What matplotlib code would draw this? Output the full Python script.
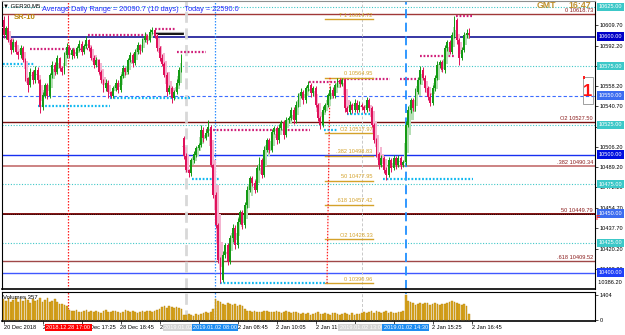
import matplotlib
matplotlib.use("Agg")
import matplotlib.pyplot as plt
import matplotlib.transforms as mtransforms
from matplotlib.patches import Rectangle

plt.rcParams['font.family'] = ['Liberation Sans', 'DejaVu Sans']

# ---------------- data ----------------
symbol = "GER30,M5"
first_open = 10614.0
gap_index = 74          # first bar of 2 Jan session
gap_open = 10514.0

closes = [
    10601, 10607, 10597, 10588.5, 10595, 10587, 10584, 10590, 10580, 10565,
    10559, 10570, 10563, 10572, 10563, 10540, 10550, 10559, 10550, 10567,
    10576, 10570, 10582, 10573, 10570, 10584, 10591, 10584, 10588.5, 10583.5,
    10590, 10594, 10587, 10592, 10597, 10590, 10582, 10576, 10580, 10570,
    10563, 10556, 10561, 10553, 10550, 10556, 10561, 10555, 10566.5, 10573,
    10570, 10580, 10584, 10577.5, 10587, 10593, 10588.5, 10597, 10600.5, 10597,
    10604, 10605.5, 10600.5, 10590, 10582, 10577, 10567.5, 10553, 10556, 10548,
    10553, 10561, 10572, 10582,
    10499, 10487, 10484, 10495, 10500, 10505.5, 10508, 10521, 10514, 10518,
    10523, 10491, 10466, 10440, 10411, 10394, 10415, 10423, 10409, 10429,
    10438, 10423, 10443, 10451, 10440, 10457, 10470, 10480, 10476, 10470,
    10488.5, 10495, 10483, 10504, 10512, 10504, 10519, 10522.5, 10512, 10522.5,
    10527.5, 10516.5, 10529, 10531, 10538, 10529, 10542, 10550, 10553, 10546,
    10556, 10559, 10552, 10556, 10542, 10531, 10525, 10538, 10542, 10550,
    10555, 10550, 10559, 10563, 10560, 10563, 10539, 10536, 10542, 10538,
    10544, 10538, 10542, 10540, 10538, 10546, 10539, 10525, 10512, 10500,
    10491, 10497, 10487, 10483, 10495, 10488.5, 10497, 10491, 10497, 10491,
    10493.5, 10525, 10538, 10546, 10539, 10553, 10563, 10572, 10565, 10556,
    10549, 10544, 10556, 10565, 10576, 10578, 10572, 10590, 10595, 10587,
    10601, 10614, 10597, 10582, 10588.5, 10601, 10603, 10601,
]
wick_up = [
    3, 2, 11, 2, 3, 2, 1, 3, 2, 2,
    1, 3, 2, 3, 2, 1, 3, 2, 2, 2,
    3, 2, 2, 1, 2, 3, 3.5, 2, 2, 1,
    2, 3, 2, 2, 3.5, 1, 2, 2, 3, 1,
    2, 1, 3, 2, 1, 2, 3, 2, 2, 3,
    1, 2, 3, 2, 2, 2, 1, 2, 3, 2,
    2, 2.5, 1, 2, 2, 3, 1, 2, 3, 2,
    2, 3, 2, 3, 2, 2, 1, 2, 3, 2,
    2, 4, 2, 3, 6, 2, 1, 2, 2, 2,
    3, 2, 2, 3, 3, 2, 3, 2, 2, 3,
    3, 2, 2, 2, 3, 3, 2, 3, 2, 2,
    3, 2, 2, 3, 2, 2, 3, 2, 2, 2,
    3, 2, 3, 2, 2, 3, 2, 2, 2, 2,
    2, 3, 2, 2, 3, 2, 2, 2, 2, 2,
    2, 2, 3, 2, 3, 2, 3, 2, 2, 3,
    2, 2, 2, 2, 2, 3, 2, 2, 3, 2,
    3, 2, 3, 2, 2, 3, 3, 2, 2, 3,
    3, 3, 2, 2, 2, 3, 3, 2, 3, 2,
    2, 3, 2, 2, 3, 3, 2, 2, 3, 3,
    3, 4,
]
wick_dn = [
    2, 3, 2, 3, 2, 2, 3, 2, 2, 3,
    6, 2, 3, 2, 2, 5, 2, 2, 3, 2,
    2, 3, 2, 2, 3, 2, 2, 2, 3, 2,
    2, 2, 3, 2, 2, 2, 2, 3, 2, 2,
    2, 3, 2, 5, 2, 2, 2, 3, 2, 2,
    3, 2, 2, 3, 2, 2, 3, 2, 2, 3,
    2, 2, 2, 2, 3, 2, 2, 3, 2, 4.5,
    2, 2, 2, 2, 3, 2, 3, 2, 2, 2,
    2, 2, 3, 2, 2, 2, 3, 2, 3, 3,
    2, 3, 3, 2, 3, 3, 2, 2, 3, 2,
    2, 2, 3, 3, 2, 2, 3, 2, 2, 3,
    2, 2, 3, 2, 2, 3, 2, 2, 2, 3,
    2, 2, 2, 3, 2, 2, 3, 2, 2, 3,
    3, 2, 2, 2, 3, 2, 2, 2, 3, 2,
    3, 2, 2, 3, 2, 3, 2, 2, 3, 2,
    2, 2, 2, 2, 3, 2, 3, 4.5, 2, 3,
    2, 3, 2, 3, 2, 2, 2, 3, 2, 2,
    2, 3, 2, 3, 3, 3, 2, 2, 2, 3,
    2, 3, 2, 2, 2, 2, 3, 6, 2, 2,
    2, 2,
]
volumes = [
    1150, 1050, 1200, 980, 1100, 1230, 1000, 1150, 1080, 1200,
    1120, 950, 1180, 1050, 1130, 1250, 1000, 1100, 1210, 990,
    1080, 1150, 1020, 900, 880, 850, 780, 560, 520, 480,
    540, 470, 430, 510, 560, 450, 490, 430, 520, 470,
    410, 500, 540, 460, 420, 490, 510, 440, 400, 470,
    530, 480, 440, 500, 460, 410, 470, 520, 430, 480,
    510, 460, 500, 550, 620, 700, 760, 680, 800, 720,
    650, 740, 690, 610, 300, 250, 320, 280, 240, 310,
    270, 330, 380, 420, 400, 450, 620, 1150, 1080, 1000,
    900, 850, 950, 880, 820, 900, 780, 860, 800, 600,
    520, 480, 450, 500, 420, 470, 430, 480, 510, 440,
    460, 420, 490, 450, 410, 470, 520, 440, 400, 460,
    430, 390, 350, 380, 320, 360, 300, 340, 380, 420,
    350, 310, 370, 330, 290, 360, 400, 320, 280, 350,
    380, 330, 300, 360, 290, 340, 310, 370, 420, 380,
    450, 520, 400, 480, 430, 370, 460, 500, 390, 440,
    410, 380, 450, 420, 480, 1404, 1050, 980, 920, 860,
    900, 950, 880, 920, 970, 860, 900, 950, 880, 830,
    900, 870, 940, 980, 1050, 1000, 930, 880, 850, 900,
    760, 357,
]
volume_max_label = 1404
last_volume = 357

# price axis ticks (labels under the round-number boxes are hidden)
ytick_vals = [10609.7, 10592.2, 10575.2, 10558.2, 10540.7, 10523.2, 10506.2,
              10489.2, 10472.2, 10454.7, 10437.7, 10420.2, 10403.2]
ytick_hidden = [10575.2, 10523.2]
bottom_tick = 10386.2
# round-number price boxes
round_levels = [10625, 10600, 10575, 10550, 10525, 10500, 10475, 10450, 10425, 10400]
round_colors = ['#3cc8c8', '#0000c8', '#3cc8c8', '#3c6cf0', '#3cc8c8',
                '#0010e0', '#3cc8c8', '#3c6cf0', '#3cc8c8', '#2040f8']
# pivot / fibo levels across full width
fr_levels = [10618.73, 10527.50, 10490.34, 10449.79, 10409.52]
fr_names = ["0", "O2", ".382", "50", ".618"]
# fib retracement (short) levels
fib_levels = [10614.72, 10564.95, 10517.97, 10498.83, 10477.95, 10457.42, 10428.33, 10390.96]
fib_names = ["T 1", "0", "O2", ".382", "50", ".618", "O2", "0"]
# magenta resistance segments (price, bar_start, bar_end)
res_segments = [(10589.3, 10.9, 34.7), (10601.3, 34.7, 59.3), (10606.3, 62.2, 70.4),
                (10586.8, 71.2, 83.1), (10520.7, 83.1, 125.7), (10561.4, 125.3, 138.1),
                (10564.0, 138.1, 158.6), (10564.0, 162.7, 170.0), (10583.5, 170.9, 185.2),
                (10617.6, 185.6, 192.6)]
# cyan support segments
sup_segments = [(10576.7, -0.2, 12.9), (10541.1, 14.2, 43.7), (10548.0, 43.7, 76.5),
                (10479.3, 77.3, 88.8), (10391.1, 88.8, 133.1), (10520.7, 131.5, 137.2),
                (10534.0, 140.9, 150.4), (10479.3, 155.7, 192.6)]
# time markers (bar position, label, colour)
event_bars = [26.5, 74.9, 86.8, 147.0, 165.1]
event_labels = ["2018.12.28 17:00", "2019.01.02 07:00", "2019.01.02 08:00",
                "2019.01.02 13:00", "2019.01.02 14:30"]
xtick_bars = [0, 16, 32, 48, 64, 80, 96, 112, 128, 144, 160, 176, 192]
xtick_labels = ["20 Dec 2018", "2", "28 Dec 17:25", "28 Dec 18:45", "2",
                "", "2 Jan 08:45", "2 Jan 10:05", "2 Jan 11:25",
                "", "", "2 Jan 15:25", "2 Jan 16:45"]
adr_text = "Average Daily Range = 20090.7 (10 days)   Today = 22590.0"

# ---------------- derived OHLC ----------------
n = len(closes)
opens = [first_open] + closes[:-1]
opens[gap_index] = gap_open
highs = [max(o, c) + u for o, c, u in zip(opens, closes, wick_up)]
lows = [min(o, c) - d for o, c, d in zip(opens, closes, wick_dn)]
ha_c = [(o + h + l + c) / 4 for o, h, l, c in zip(opens, highs, lows, closes)]
ha_o = []
for i in range(n):
    if i == 0 or i == gap_index:
        ha_o.append((opens[i] + closes[i]) / 2)
    else:
        ha_o.append((ha_o[i - 1] + ha_c[i - 1]) / 2)

# ---------------- figure ----------------
W, H = 625, 335
fig = plt.figure(figsize=(W / 100, H / 100), dpi=100)
fig.patch.set_facecolor('white')

def fx(px):
    return px / W

def fy(py):
    return 1 - py / H

ax = fig.add_axes([fx(2), fy(289), fx(595) - fx(2), fy(1) - fy(289)])
axv = fig.add_axes([fx(2), fy(321), fx(595) - fx(2), fy(292) - fy(321)])

SP = 2.4375
def bx(px):
    return (px - 3.5) / SP

def yp(py):
    return 10625 - (py - 7) / 1.18

xlim = (bx(2), bx(595))
ax.set_xlim(*xlim)
ax.set_ylim(yp(289), yp(1))
axv.set_xlim(*xlim)
axv.set_ylim(-60, 1560)

FS = 4.1
dark_red = '#8b1c1c'
gold = '#d4a22a'

# full width horizontal lines
for lvl in (10625, 10575, 10525, 10475, 10425):
    ax.axhline(lvl, color='#40c8c8', ls=(0, (1, 1.5)), lw=0.8, zorder=1)
ax.axhline(10600, color='#00008c', lw=1.1, zorder=1)
ax.axhline(10550, color='#3c6cff', ls=(0, (3, 2)), lw=0.8, zorder=1)
ax.axhline(10500, color='#1830f0', lw=1.0, zorder=1)
ax.axhline(10400, color='#4058ff', lw=1.0, zorder=1)
ax.axhline(fr_levels[0], color='#a03838', lw=1.0, zorder=1)
ax.axhline(fr_levels[1], color='#7a1010', lw=1.0, zorder=1)
ax.axhline(fr_levels[2], color='#c87878', lw=1.3, zorder=1)
ax.axhline(fr_levels[3], color='#7a0000', lw=1.3, zorder=1)
ax.axhline(fr_levels[3], color='black', ls=(0, (1, 1.5)), lw=0.6, zorder=1)
ax.axhline(fr_levels[4], color='#a04848', lw=1.0, zorder=1)

# vertical time markers
vstyles = [dict(color='#ff2020', ls=(0, (1.2, 1.2)), lw=0.9),
           dict(color='#d8d8d8', ls=(0, (4, 2)), lw=2.0),
           dict(color='#3090ff', ls=(0, (1.2, 1.2)), lw=0.9),
           dict(color='#c8c8c8', ls=(0, (3, 2)), lw=0.7),
           dict(color='#2090ff', ls=(0, (5, 2.5)), lw=1.3)]
for b, st in zip(event_bars, vstyles):
    ax.axvline(b, zorder=1, **st)
    axv.axvline(b, zorder=1, **st)

# support / resistance segments
for p, a, b in res_segments:
    ax.plot([a, b], [p, p], color='#d0207a', lw=1.6, ls=(0, (0.8, 0.8)), zorder=2,
            solid_capstyle='butt')
for p, a, b in sup_segments:
    ax.plot([a, b], [p, p], color='#10b8f0', lw=1.6, ls=(0, (0.8, 0.8)), zorder=2,
            solid_capstyle='butt')

# black short line near top
ax.plot([bx(155), bx(183)], [yp(32.5), yp(32.5)], color='#b0b0b0', lw=0.8, zorder=2)
ax.plot([bx(155), bx(183)], [yp(34), yp(34)], color='black', lw=1.3, zorder=2)

# fib retracement block
fx0, fx1 = bx(325), bx(373)
for p, nm in zip(fib_levels, fib_names):
    ax.plot([fx0, fx1], [p, p], color=gold, lw=1.0, zorder=2)
    ax.annotate(f"{nm} {p:.2f}", (fx1 - 0.2, p), xytext=(0, 1.0), textcoords='offset points',
                ha='right', va='bottom', fontsize=FS, color=gold, zorder=6)
ax.plot([bx(330), bx(327)], [fib_levels[1], fib_levels[-1]], color='#ff2020',
        ls=(0, (1.2, 1.2)), lw=0.9, zorder=2)

# full-width level labels (right side)
for p, nm in zip(fr_levels, fr_names):
    ax.annotate(f"{nm} {p:.2f}", (bx(593), p), xytext=(0, 0.8), textcoords='offset points',
                ha='right', va='bottom', fontsize=FS, color=dark_red, zorder=6)

# heiken-ashi style ghost candles
for i in range(n):
    o, c = ha_o[i], ha_c[i]
    col = '#b4deb4' if c >= o else '#f4b4d0'
    ax.bar(i - 0.2, max(abs(c - o), 0.6), bottom=min(o, c), width=0.85, color=col,
           edgecolor='none', zorder=3)

# candles
for i in range(n):
    o, h, l, c = opens[i], highs[i], lows[i], closes[i]
    col = '#139a13' if c >= o else '#e0105a'
    ax.plot([i, i], [l, h], color=col, lw=0.7, zorder=4, solid_capstyle='butt')
    ax.bar(i, max(abs(c - o), 0.7), bottom=min(o, c), width=0.75, color=col,
           edgecolor='none', zorder=5)

# volumes
axv.bar(range(n), volumes, width=0.7, color='#d9a520', edgecolor='#b8860b', lw=0.3, zorder=3)

# axes styling
for a in (ax, axv):
    for s in a.spines.values():
        s.set_color('black')
        s.set_linewidth(0.8)
    a.spines['bottom'].set_linewidth(1.2)
    a.tick_params(axis='x', which='both', bottom=False, labelbottom=False)
    a.yaxis.tick_right()
    a.tick_params(axis='y', length=2, width=0.5, pad=1.5, labelsize=FS, colors='black')
ax.spines['top'].set_color('#909090')
ax.set_yticks(ytick_vals)
ax.set_yticklabels(["" if v in ytick_hidden else f"{v:.2f}" for v in ytick_vals])
ax.text(1.0, yp(283), f"  {bottom_tick:.2f}",
        transform=mtransforms.blended_transform_factory(ax.transAxes, ax.transData),
        fontsize=FS, va='center', ha='left')
axv.set_yticks([0, volume_max_label])
axv.set_yticklabels(["0", str(volume_max_label)])

# x ticks on volume axis
axv.set_xticks(xtick_bars)
axv.set_xticklabels(xtick_labels)
axv.tick_params(axis='x', bottom=True, labelbottom=True, length=2, width=0.5, pad=1.2,
                labelsize=FS)
for t in axv.get_xticklabels():
    t.set_horizontalalignment('left')

# round-number price boxes on the right
blend_r = mtransforms.blended_transform_factory(ax.transAxes, ax.transData)
for p, col in zip(round_levels, round_colors):
    ax.text(1.006, p, f"{p:.2f}", transform=blend_r, fontsize=FS, color='white',
            va='center', ha='left', zorder=10, clip_on=False,
            bbox=dict(boxstyle='square,pad=0.28', fc=col, ec='none'))

# time boxes at the bottom
blend_b = mtransforms.blended_transform_factory(axv.transData, fig.transFigure)
box_cols = ['#ff0000', '#d4d4d4', '#1e8cf0', '#d4d4d4', '#1e8cf0']
for b, lab, col in zip(event_bars, event_labels, box_cols):
    axv.text(b, fy(327.5), lab, transform=blend_b, fontsize=FS, color='white',
             ha='center', va='center', zorder=10, clip_on=False,
             bbox=dict(boxstyle='square,pad=0.25', fc=col, ec='none'))

# texts
fig.text(fx(3), fy(6), "\u25BC " + symbol, fontsize=4.3, color='black', va='center', ha='left')
fig.text(fx(42), fy(9.5), adr_text, fontsize=5.3, color='#2828ff', va='center', ha='left')
fig.text(fx(14), fy(17.5), "SR-10", fontsize=5.6, color='#b8860b', fontweight='bold',
         va='center', ha='left')
fig.text(fx(537), fy(6.0), "GMT", fontsize=6.3, color='#c0902c', fontweight='bold',
         va='center', ha='left')
fig.text(fx(568), fy(6.0), "16:47", fontsize=6.3, color='#c0902c', fontweight='bold',
         va='center', ha='left')
fig.text(fx(3), fy(297.5), f"Volumes {last_volume}", fontsize=4.3, color='black',
         va='center', ha='left')

# "1" marker box
ax.add_patch(Rectangle((bx(583), yp(104)), bx(593) - bx(583), yp(77) - yp(104),
                       fill=False, ec='#909090', lw=0.6, zorder=7))
ax.add_patch(Rectangle((bx(582.5), yp(78.5)), bx(585) - bx(582.5), yp(76) - yp(78.5),
                       fc='#ff2020', ec='none', zorder=8))
ax.text(bx(588), yp(91), "1", fontsize=12, color='#ff1010', fontweight='bold',
        ha='center', va='center', zorder=8)
fig.text(fx(596), fy(218), "F", fontsize=5, color='#ff2020', fontweight='bold',
         va='center', ha='left')

fig.savefig("out.png", dpi=100)
